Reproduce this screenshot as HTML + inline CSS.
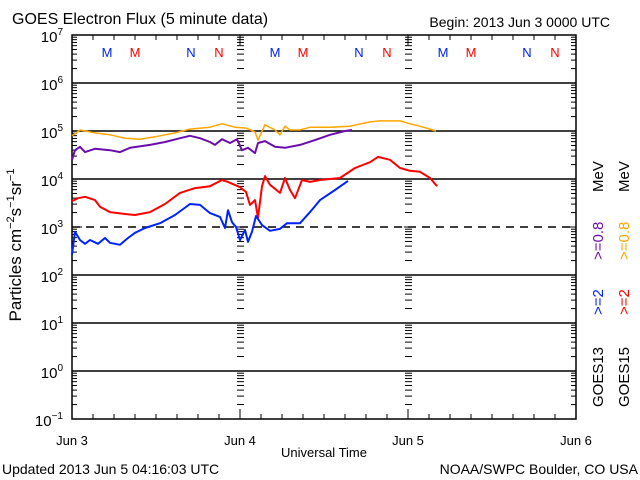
<!DOCTYPE html>
<html><head><meta charset="utf-8"><style>
html,body{margin:0;padding:0;background:#fff;}
svg{display:block;font-family:"Liberation Sans",sans-serif;}
</style></head><body>
<svg id="c" width="640" height="480" viewBox="0 0 640 480"></svg>
<script>
// data: [hour since Jun 3 00:00, log10 flux]
const g15_08 = [[0,4.90],[1.14,5.02],[3.29,4.96],[5.43,4.92],[7.57,4.85],[9.71,4.83],[11.86,4.88],[14.71,4.96],[16.86,5.04],[19.71,5.08],[21.43,5.15],[23.29,5.08],[24.86,5.06],[26.14,4.98],[26.57,4.81],[27.57,5.13],[29,5.02],[29.71,4.92],[30.43,5.10],[31.14,5.02],[32.57,5.02],[34,5.08],[36.86,5.08],[39.71,5.10],[42.57,5.19],[44,5.21],[46.86,5.21],[48.29,5.15],[49.71,5.10],[52,5.00]];
const g13_08 = [[0,4.40],[0.43,4.60],[1.14,4.67],[1.86,4.56],[3.29,4.63],[5.43,4.60],[6.86,4.56],[8.29,4.65],[11.14,4.71],[13.29,4.77],[15.43,4.85],[16.86,4.90],[18.29,4.85],[19.71,4.77],[20.43,4.71],[21.43,4.83],[22.57,4.75],[23.57,4.83],[24.29,4.60],[25.14,4.65],[26.14,4.54],[26.57,4.75],[27.57,4.79],[29,4.67],[30.43,4.65],[32.57,4.71],[34.71,4.81],[36.86,4.92],[39,5.00],[40,5.02]];
const g15_2 = [[0,3.54],[0.86,3.60],[1.86,3.63],[3.29,3.56],[4,3.42],[5.43,3.31],[7.57,3.27],[9,3.25],[11.14,3.31],[13.29,3.48],[15.43,3.71],[17.57,3.81],[19.71,3.85],[21.43,3.98],[22.29,3.94],[24,3.83],[24.86,3.73],[25.43,3.46],[26.14,3.56],[26.57,3.19],[27.14,3.85],[27.57,4.06],[28.29,3.88],[29.71,3.71],[30.43,4.02],[31.14,3.77],[31.86,3.60],[32.86,3.98],[34,3.94],[35.43,3.98],[38.29,4.02],[40.43,4.23],[42.57,4.35],[43.71,4.46],[45.43,4.40],[46.86,4.23],[48.29,4.17],[49.71,4.15],[51.14,4.02],[52.14,3.85]];
const g13_2 = [[0,2.42],[0.43,2.90],[1.14,2.73],[1.86,2.65],[2.57,2.73],[3.71,2.65],[4.71,2.77],[5.43,2.67],[6.86,2.63],[8,2.77],[9,2.88],[10.43,2.98],[12.57,3.08],[14.71,3.25],[16.86,3.48],[18.29,3.46],[19.71,3.29],[21.14,3.21],[21.86,2.98],[22.29,3.35],[22.86,3.10],[23.43,3.00],[24,2.73],[24.71,2.94],[25.14,2.69],[25.71,2.90],[26.29,3.23],[27.14,3.04],[28.29,2.92],[29.71,2.96],[30.71,3.08],[32.57,3.08],[34,3.31],[35.43,3.56],[37.57,3.77],[39.43,3.96]];
const dayLabels = ["Jun 3","Jun 4","Jun 5","Jun 6"];
const decades = [7,6,5,4,3,2,1,0,-1];

const L=72,R=576,T=35,B=419;
const xs=h=>L+h*7, ys=lg=>T+(7-lg)*48;
const svg=document.getElementById('c');
const NS='http://www.w3.org/2000/svg';
function el(tag,attrs,parent){const e=document.createElementNS(NS,tag);for(const k in attrs)e.setAttribute(k,attrs[k]);(parent||svg).appendChild(e);return e;}
function txt(x,y,s,attrs){const e=el('text',Object.assign({x:x,y:y},attrs||{}));e.textContent=s;return e;}

// decade lines
decades.forEach(d=>{
  if(d===7||d===-1)return;
  const l=el('line',{x1:L,x2:R,y1:ys(d),y2:ys(d),stroke:'#000','stroke-width':1.5,'stroke-dasharray':d===3?'8,6':'none'});
  
  
});
// log minor ticks on left, right, and day lines
for(let d=-1;d<7;d++){
  for(let m=2;m<=9;m++){
    const y=ys(d+Math.log10(m));
    el('line',{x1:L,x2:L+5,y1:y,y2:y,stroke:'#000'});
    el('line',{x1:R-5,x2:R,y1:y,y2:y,stroke:'#000'});
    [1,2].forEach(k=>{const x=L+k*168;el('line',{x1:x-3,x2:x+4,y1:y,y2:y,stroke:'#000'});});
  }
}
decades.forEach(d=>{
  const y=ys(d);
  el('line',{x1:L,x2:L+10,y1:y,y2:y,stroke:'#000'});
  el('line',{x1:R-10,x2:R,y1:y,y2:y,stroke:'#000'});
  [1,2].forEach(k=>{const x=L+k*168;el('line',{x1:x-4,x2:x+5,y1:y,y2:y,stroke:'#000'});});
  const t=el('text',{x:63,y:y+7,'text-anchor':'end','font-size':15});
  
  
  t.innerHTML='10<tspan dy="-7" font-size="10">'+(d<0?'−'+(-d):d)+'</tspan>';
});
// bottom/top hour ticks
for(let h=0;h<=72;h+=3){
  const x=xs(h), len=h%24===0?10:5;
  el('line',{x1:x,x2:x,y1:B,y2:B-len,stroke:'#000'});
  el('line',{x1:x,x2:x,y1:T,y2:T+len,stroke:'#000'});
}
dayLabels.forEach((s,i)=>{
  const t=txt(L+i*168,445,s,{'text-anchor':'middle','font-size':13});
  
  
});
// axes frame
const fr=el('rect',{x:L,y:T,width:R-L,height:B-T,fill:'none',stroke:'#000','stroke-width':1.5});



// series
function series(pts,color,w,name){
  const p=el('polyline',{points:pts.map(q=>xs(q[0]).toFixed(1)+','+ys(q[1]).toFixed(1)).join(' '),fill:'none',stroke:color,'stroke-width':w,'stroke-linejoin':'round'});
  
  
}
series(g15_08,'#ffa500',1.5,'series-goes15-0p8mev');
series(g13_08,'#6a0dad',2,'series-goes13-0p8mev');
series(g15_2,'#ff0000',2,'series-goes15-2mev');
series(g13_2,'#0022ff',2,'series-goes13-2mev');

// M/N markers
const mk=[[107,'M','#0022ff'],[135,'M','#ff0000'],[191,'N','#0022ff'],[219,'N','#ff0000']];
for(let k=0;k<3;k++)mk.forEach(m=>{
  const t=txt(m[0]+k*168,57,m[1],{'text-anchor':'middle','font-size':13,fill:m[2]});
  
  
});

// titles
let t;
t=txt(12,24,'GOES Electron Flux (5 minute data)',{'font-size':16});

t=txt(610,27,'Begin: 2013 Jun 3 0000 UTC',{'font-size':14,'text-anchor':'end'});

t=txt(324,457,'Universal Time',{'font-size':13,'text-anchor':'middle'});

t=txt(2,474,'Updated 2013 Jun  5 04:16:03 UTC',{'font-size':14,'xml:space':'preserve'});

t=txt(638,474,'NOAA/SWPC Boulder, CO USA',{'font-size':14,'text-anchor':'end'});

t=el('text',{x:0,y:0,'font-size':17,'text-anchor':'middle',transform:'translate(21,245) rotate(-90)'});
t.innerHTML='Particles cm<tspan dy="-7" font-size="11">−2</tspan><tspan dy="7">s</tspan><tspan dy="-7" font-size="11">−1</tspan><tspan dy="7">sr</tspan><tspan dy="-7" font-size="11">−1</tspan>';


// legend (rotated)
function rt(x,y,s,c,name){const e=el('text',{x:0,y:0,'font-size':15,fill:c,transform:'translate('+x+','+y+') rotate(-90)'});e.textContent=s;}
rt(603,407,'GOES13','#000','legend-goes13');
rt(603,315,'>=2','#0022ff','legend-goes13-2mev');
rt(603,260,'>=0.8','#6a0dad','legend-goes13-0p8mev');
rt(603,192,'MeV','#000','legend-goes13-mev');
rt(629,407,'GOES15','#000','legend-goes15');
rt(629,315,'>=2','#ff0000','legend-goes15-2mev');
rt(629,260,'>=0.8','#ffa500','legend-goes15-0p8mev');
rt(629,192,'MeV','#000','legend-goes15-mev');
</script>
</body></html>
